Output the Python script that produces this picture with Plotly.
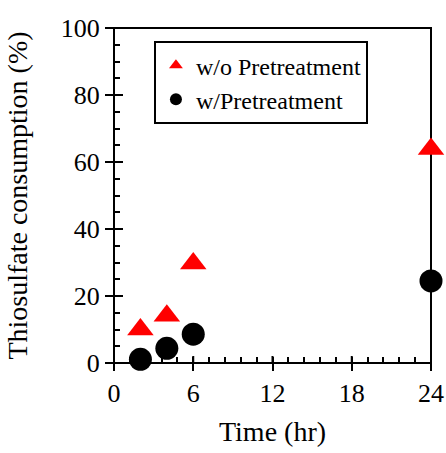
import plotly.graph_objects as go

# Thiosulfate consumption over leaching time
time_hr = [2, 4, 6, 24]
without_pretreatment = [10.0, 14.1, 29.7, 63.9]
with_pretreatment = [1.1, 4.4, 8.6, 24.5]

x_ticks = [0, 6, 12, 18, 24]
y_ticks = [0, 20, 40, 60, 80, 100]

FONT = "Liberation Serif"
W, H = 446, 453
M = dict(l=114, r=15, t=28, b=90)
plot_w = W - M["l"] - M["r"]
plot_h = H - M["t"] - M["b"]

fig = go.Figure()
fig.add_trace(go.Scatter(
    x=time_hr, y=without_pretreatment, mode="markers", name="w/o Pretreatment",
    marker=dict(symbol="triangle-up", size=23, color="#ff0000"),
    cliponaxis=False,
))
fig.add_trace(go.Scatter(
    x=time_hr, y=with_pretreatment, mode="markers", name="w/Pretreatment",
    marker=dict(symbol="circle", size=23, color="#000000"),
    cliponaxis=False,
))

# plot frame
fig.add_shape(type="rect", xref="paper", yref="paper", x0=0, y0=0, x1=1, y1=1,
              line=dict(color="black", width=2), layer="below")

# inner half of the major ticks, so they cross the axis lines
tick_line = dict(color="black", width=2)
for xv in x_ticks:
    fig.add_shape(type="line", xref="x", yref="paper", x0=xv, x1=xv,
                  y0=0, y1=7 / plot_h, line=tick_line, layer="below")
for yv in y_ticks:
    fig.add_shape(type="line", xref="paper", yref="y", x0=0, x1=9 / plot_w,
                  y0=yv, y1=yv, line=tick_line, layer="below")

fig.update_layout(
    width=W, height=H,
    margin=dict(**M, autoexpand=False),
    paper_bgcolor="white", plot_bgcolor="white",
    font=dict(family=FONT, color="black", size=26),
    showlegend=True,
    legend=dict(
        x=0.126, y=0.961, xanchor="left", yanchor="top",
        bordercolor="black", borderwidth=2, bgcolor="white",
        font=dict(family=FONT, size=24, color="black"),
        itemsizing="constant",
    ),
    xaxis=dict(
        range=[x_ticks[0], x_ticks[-1]], tickvals=x_ticks,
        showgrid=False, zeroline=False, showline=False,
        ticks="outside", ticklen=7, tickcolor="black", tickwidth=2,
        minor=dict(ticks="inside", ticklen=6, tick0=0, dtick=1.2,
                   tickcolor="black", tickwidth=2),
        title=dict(text="Time (hr)", font=dict(family=FONT, size=28), standoff=14),
        tickfont=dict(family=FONT, size=26),
    ),
    yaxis=dict(
        range=[y_ticks[0], y_ticks[-1]], tickvals=y_ticks,
        showgrid=False, zeroline=False, showline=False,
        ticks="outside", ticklen=8, tickcolor="black", tickwidth=2,
        minor=dict(ticks="inside", ticklen=6, tick0=0, dtick=5,
                   tickcolor="black", tickwidth=2),
        title=dict(text="Thiosulfate consumption (%)", font=dict(family=FONT, size=28),
                   standoff=24),
        tickfont=dict(family=FONT, size=26),
        ticksuffix="\u2002",
    ),
)

fig.write_html("out.html")
